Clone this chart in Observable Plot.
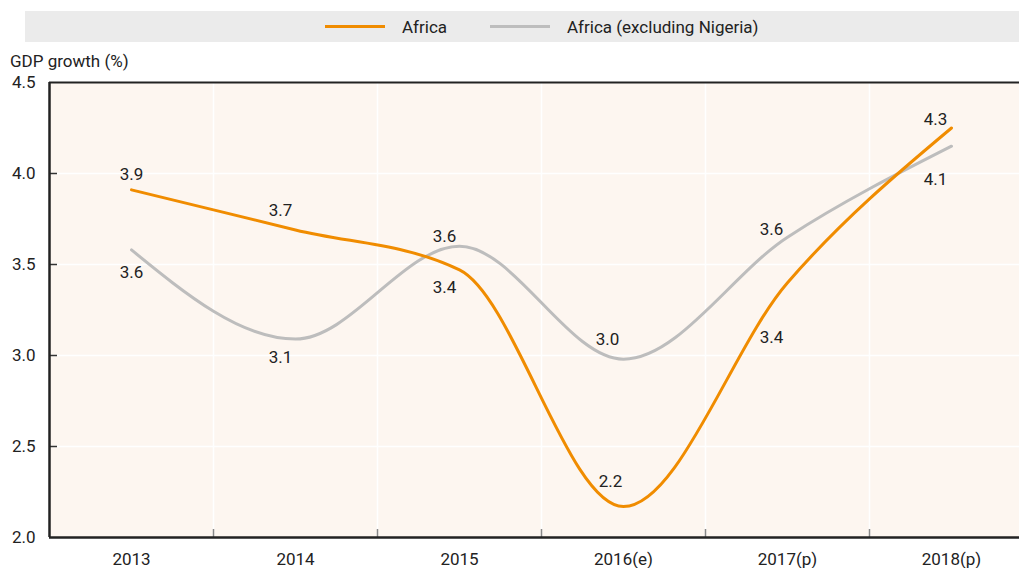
<!DOCTYPE html>
<html>
<head>
<meta charset="utf-8">
<script src="https://cdn.jsdelivr.net/npm/d3@7"></script>
<script src="https://cdn.jsdelivr.net/npm/@observablehq/plot@0.6"></script>
<style>
  html, body { margin: 0; padding: 0; width: 1019px; height: 568px; overflow: hidden; background: #fff; }
  body { position: relative; font-family: Roboto, "Liberation Sans", sans-serif; color: #222; }
  #legend { position: absolute; left: 25px; top: 11px; width: 994px; height: 31px; background: #ebebeb; }
  .item { position: absolute; top: 0; height: 31px; display: flex; align-items: center; font-size: 17px; }
  .sw { display: inline-block; width: 60px; height: 3px; margin-right: 17px; }
  #ytitle { position: absolute; left: 10px; top: 51px; font-size: 17px; line-height: 20px; }
  #chart { position: absolute; left: 0; top: 42px; width: 1033px; }
  #chart svg { max-width: none !important; }
</style>
</head>
<body>
<div id="legend"></div>
<div id="ytitle"></div>
<div id="chart"></div>
<script>
// ---- data ----
const years = ["2013", "2014", "2015", "2016(e)", "2017(p)", "2018(p)"];
const africa = [3.91, 3.69, 3.47, 2.17, 3.40, 4.25];
const africaExNigeria = [3.58, 3.09, 3.60, 2.98, 3.65, 4.15];
const africaLabels = ["3.9", "3.7", "3.4", "2.2", "3.4", "4.3"];
const exNigeriaLabels = ["3.6", "3.1", "3.6", "3.0", "3.6", "4.1"];
const seriesNames = ["Africa", "Africa (excluding Nigeria)"];
const yTicks = [2.0, 2.5, 3.0, 3.5, 4.0, 4.5];
const yTitle = "GDP growth (%)";

// ---- styles ----
const colors = ["#f08c00", "#bdbdbd"];
const font = 'Roboto, "Liberation Sans", sans-serif';
// label offsets (pixels) for each point of each series
const offA = [[0, -15], [-15, -19], [-15, 18], [-13, -25], [-16, 55], [-16, -8]];
const offG = [[0, 23], [-15, 18], [-15, -10], [-16, -20], [-16, -8], [-16, 33]];

// legend
const legend = document.getElementById("legend");
const legendX = [300, 465];
seriesNames.forEach((n, k) => {
  const it = document.createElement("div");
  it.className = "item";
  it.style.left = legendX[k] + "px";
  const sw = document.createElement("span");
  sw.className = "sw";
  sw.style.background = colors[k];
  it.appendChild(sw);
  it.appendChild(document.createTextNode(n));
  legend.appendChild(it);
});
document.getElementById("ytitle").textContent = yTitle;

const dataA = africa.map((v, i) => ({i, v, label: africaLabels[i], dx: offA[i][0], dy: offA[i][1]}));
const dataG = africaExNigeria.map((v, i) => ({i, v, label: exNigeriaLabels[i], dx: offG[i][0], dy: offG[i][1]}));
const idx = years.map((d, i) => i);
const bounds = years.map((d, i) => i + 0.5);

const labelMarks = [...dataA, ...dataG].map(d =>
  Plot.text([d], {x: "i", y: "v", text: "label", dx: d.dx, dy: d.dy, fill: "#222", fontSize: 17})
);

const chart = Plot.plot({
  width: 1033,
  height: 526,
  marginLeft: 49,
  marginRight: 0,
  marginTop: 40,
  marginBottom: 31,
  style: {fontFamily: font, fontSize: "17px", background: "transparent", color: "#222", overflow: "visible", maxWidth: "none"},
  x: {type: "linear", domain: [-0.5, 5.5], axis: null},
  y: {domain: [2, 4.5], axis: null},
  marks: [
    Plot.frame({fill: "#fdf6f0", stroke: null}),
    Plot.ruleY(yTicks.slice(1, -1), {stroke: "#ffffff", strokeWidth: 1.5}),
    Plot.ruleX(bounds, {stroke: "#ffffff", strokeWidth: 1.5}),
    Plot.axisX({ticks: bounds, tickSize: 8, dy: -8, tickFormat: () => "", label: null, stroke: "#888", strokeWidth: 1.5}),
    Plot.axisY({ticks: yTicks.slice(1, -1), tickSize: 8, dx: 8, tickFormat: () => "", label: null, stroke: "#333", strokeWidth: 1.5}),
    Plot.axisY({ticks: yTicks, tickSize: 0, tickPadding: 14, tickFormat: d3.format(".1f"), label: null, fontSize: 17, fill: "#222"}),
    Plot.axisX({ticks: idx, tickSize: 0, tickPadding: 15, tickFormat: i => years[i], label: null, fontSize: 17, fill: "#222"}),
    Plot.line(dataG, {x: "i", y: "v", curve: "monotone-x", stroke: colors[1], strokeWidth: 3}),
    Plot.line(dataA, {x: "i", y: "v", curve: "monotone-x", stroke: colors[0], strokeWidth: 3}),
    ...labelMarks,
    Plot.ruleY([2], {stroke: "#222", strokeWidth: 2.5}),
    Plot.ruleY([4.5], {stroke: "#222", strokeWidth: 2}),
    Plot.ruleX([-0.5], {stroke: "#222", strokeWidth: 2.5})
  ]
});
document.getElementById("chart").appendChild(chart);
</script>
</body>
</html>
